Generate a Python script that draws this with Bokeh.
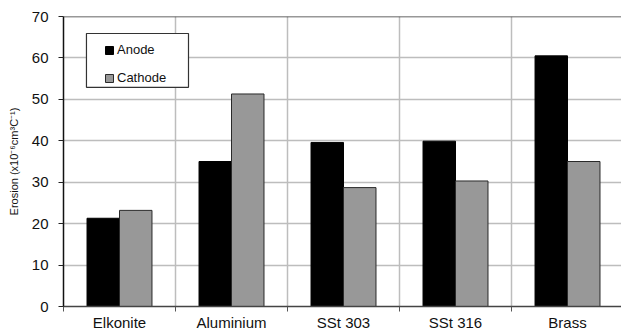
from bokeh.plotting import figure
from bokeh.models import FixedTicker, Range1d, Legend, LegendItem, BoxAnnotation, Span, ColumnDataSource
from bokeh.embed import file_html
from bokeh.resources import INLINE

materials = ["Elkonite", "Aluminium", "SSt 303", "SSt 316", "Brass"]
anode = [21.3, 35.0, 39.6, 39.9, 60.5]
cathode = [23.2, 51.3, 28.7, 30.3, 35.0]
y_ticks = [0, 10, 20, 30, 40, 50, 60, 70]

FONT = "Liberation Sans"
n = len(materials)
centers = [i + 0.5 for i in range(n)]
bar_w = 0.29

src = ColumnDataSource(dict(
    xa=[c - bar_w / 2 for c in centers],
    xc=[c + bar_w / 2 for c in centers],
    anode=anode,
    cathode=cathode,
))

p = figure(width=621, height=333, output_backend="svg", toolbar_location=None,
           x_range=Range1d(0, 4.982), y_range=Range1d(0, 70),
           min_border_left=63, min_border_right=0, min_border_top=16, min_border_bottom=26)
p.outline_line_color = None
p.background_fill_color = "white"

ra = p.vbar(x="xa", top="anode", width=bar_w, source=src, fill_color="black", line_color="black", line_width=1)
rc = p.vbar(x="xc", top="cathode", width=bar_w, source=src, fill_color="#989898", line_color="#2a2a2a", line_width=1)

# x axis
p.xaxis.ticker = FixedTicker(ticks=centers, minor_ticks=list(range(n + 1)))
p.xaxis.major_label_overrides = {c: m for c, m in zip(centers, materials)}
p.xaxis.major_tick_line_color = None
p.xaxis.major_tick_out = 0
p.xaxis.major_tick_in = 0
p.xaxis.minor_tick_line_color = "#555555"
p.xaxis.minor_tick_out = 5
p.xaxis.minor_tick_in = 0
p.xaxis.axis_line_color = "#444444"
p.xaxis.axis_line_width = 1.5
p.xaxis.major_label_text_font = FONT
p.xaxis.major_label_text_font_size = "15px"
p.xaxis.major_label_text_color = "#111111"
p.xaxis.major_label_standoff = 2

# y axis
p.yaxis.ticker = FixedTicker(ticks=y_ticks)
p.yaxis.minor_tick_line_color = None
p.yaxis.major_tick_out = 5
p.yaxis.major_tick_in = 0
p.yaxis.major_tick_line_color = "#222222"
p.yaxis.axis_line_color = "#111111"
p.yaxis.axis_line_width = 1.5
p.yaxis.major_label_text_font = FONT
p.yaxis.major_label_text_font_size = "15px"
p.yaxis.major_label_text_color = "#111111"
p.yaxis.major_label_standoff = 10
p.yaxis.axis_label = "Erosion (x10\u207b\u2076cm\u00b3C\u207b\u00b9)"
p.yaxis.axis_label_text_font = FONT
p.yaxis.axis_label_text_font_size = "11px"
p.yaxis.axis_label_text_font_style = "normal"
p.yaxis.axis_label_text_color = "#111111"
p.yaxis.axis_label_standoff = 9

# grids
p.xgrid.ticker = FixedTicker(ticks=list(range(1, n)))
p.xgrid.grid_line_color = "#bdbdbd"
p.xgrid.grid_line_width = 1.5
p.ygrid.grid_line_color = "#bdbdbd"
p.ygrid.grid_line_width = 1.5

p.add_layout(Span(location=70, dimension="width", line_color="#333333", line_width=1.5))

# legend box
p.add_layout(BoxAnnotation(left=0.205, right=1.116, top=65.9, bottom=52.9,
                           fill_color="white", fill_alpha=1.0,
                           line_color="#333333", line_width=1.2, line_alpha=1.0))

legend = Legend(items=[LegendItem(label="Anode", renderers=[ra]),
                       LegendItem(label="Cathode", renderers=[rc])],
                location=(41, 221), padding=0, spacing=13, margin=0,
                glyph_width=10, glyph_height=10, label_height=14, label_standoff=3,
                border_line_color=None, background_fill_alpha=0.0,
                label_text_font=FONT, label_text_font_size="13px", label_text_color="#111111")
p.add_layout(legend)

open("out.html", "w").write(file_html(p, INLINE))
